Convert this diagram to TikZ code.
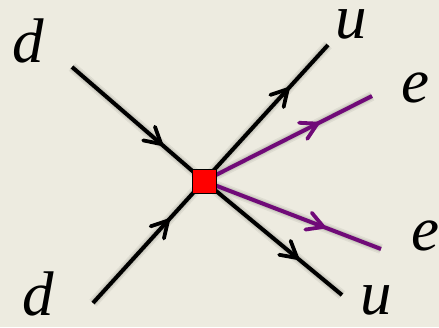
\documentclass[tikz,border=0pt]{standalone}
\usepackage{fontspec}
\setmainfont{Liberation Serif}
\usetikzlibrary{decorations.markings}
\definecolor{bg}{RGB}{237,235,224}
\definecolor{lep}{RGB}{112,10,120}
\begin{document}
\begin{tikzpicture}[x=1pt,y=-1pt,
  prop/.style={draw=#1, line width=4pt, postaction={decorate},
    decoration={markings, mark=at position 0.67 with {\draw[#1, line width=3.8pt, line cap=round, line join=round] (-15,9) .. controls (-7,4.5) .. (1,0) .. controls (-7,-4.5) .. (-15,-9);}}},
  quark/.style={prop=black},
  lepton/.style={prop=lep},
  shadow/.style={draw=black, opacity=0.06},
  lbl/.style={anchor=base, inner sep=0pt, font=\fontsize{63}{63}\selectfont\itshape}]
\fill[bg] (0,0) rectangle (439,327);
\useasboundingbox (0,0) rectangle (439,327);
\coordinate (c) at (204,181);
\coordinate (dA) at (72,67);
\coordinate (dB) at (93,303);
\coordinate (uA) at (328,45);
\coordinate (eA) at (372,96);
\coordinate (eB) at (381,249);
\coordinate (uB) at (342,295);
\begin{scope}[shift={(2,3)}]
\foreach \w in {10,7,5}{
  \draw[shadow, line width=\w pt] (dA) -- (c) -- (dB);
  \draw[shadow, line width=\w pt] (uA) -- (c) -- (uB);
  \draw[shadow, line width=\w pt] (eA) -- (c) -- (eB);
}
\end{scope}
\draw[quark] (dA) -- (c);
\draw[quark] (dB) -- (c);
\draw[quark] (c) -- (uA);
\draw[quark] (c) -- (uB);
\draw[lepton] (c) -- (eA);
\draw[lepton] (c) -- (eB);
\node[draw=black, line width=1pt, fill=red, minimum size=24pt, inner sep=0pt] (v) at (c) {};
\node[lbl] (tdA) at (28,62) {d};
\node[lbl] (tdB) at (38,315) {d};
\node[lbl] (tuA) at (351,38) {u};
\node[lbl] (teA) at (415,102) {e};
\node[lbl] (teB) at (425,250) {e};
\node[lbl] (tuB) at (376,314) {u};
\end{tikzpicture}
\end{document}
